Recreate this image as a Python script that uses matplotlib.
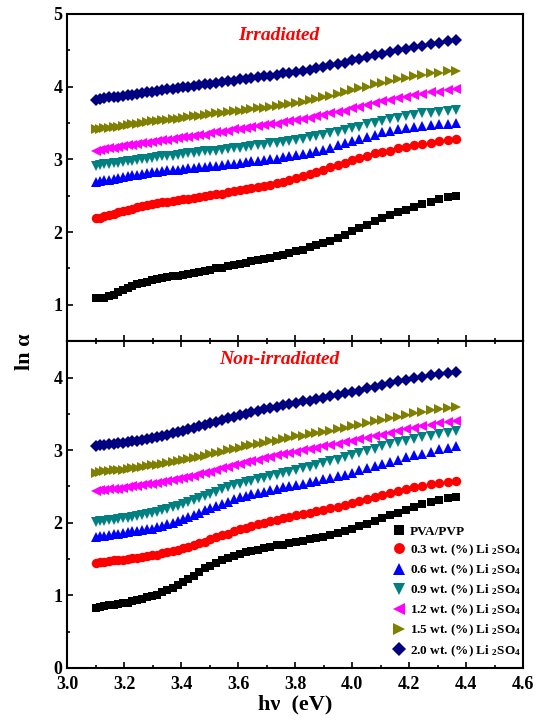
import numpy as np
import matplotlib
matplotlib.use("Agg")
import matplotlib.pyplot as plt
from matplotlib.ticker import MultipleLocator

plt.rcParams['font.family'] = ['Liberation Serif', 'DejaVu Serif']
plt.rcParams['font.weight'] = 'bold'
plt.rcParams['mathtext.fontset'] = 'custom'
plt.rcParams['mathtext.rm'] = 'Liberation Serif:bold'
plt.rcParams['mathtext.it'] = 'Liberation Serif:italic:bold'
plt.rcParams['mathtext.bf'] = 'Liberation Serif:bold'

# photon energy (eV) of each measured point
hv = [3.100, 3.116, 3.131, 3.147, 3.163, 3.179, 3.196, 3.212, 3.229, 3.246,
      3.263, 3.280, 3.298, 3.316, 3.333, 3.351, 3.370, 3.388, 3.407, 3.425,
      3.444, 3.464, 3.483, 3.503, 3.523, 3.543, 3.563, 3.584, 3.605, 3.626,
      3.647, 3.669, 3.690, 3.713, 3.735, 3.758, 3.780, 3.804, 3.827, 3.851,
      3.875, 3.899, 3.924, 3.949, 3.974, 4.000, 4.026, 4.052, 4.079, 4.106,
      4.133, 4.161, 4.189, 4.218, 4.247, 4.276, 4.306, 4.336, 4.366]

labels = ["PVA/PVP",
          "0.3 wt. (%) Li $_2$SO$_4$",
          "0.6 wt. (%) Li $_2$SO$_4$",
          "0.9 wt. (%) Li $_2$SO$_4$",
          "1.2 wt. (%) Li $_2$SO$_4$",
          "1.5 wt. (%) Li $_2$SO$_4$",
          "2.0 wt. (%) Li $_2$SO$_4$"]

# ---- irradiated (top panel) ----
irr_00 = [1.09, 1.09, 1.10, 1.12, 1.14, 1.17, 1.20, 1.23, 1.26, 1.28,
          1.30, 1.32, 1.34, 1.36, 1.37, 1.38, 1.39, 1.40, 1.41, 1.43,
          1.44, 1.45, 1.47, 1.48, 1.50, 1.51, 1.53, 1.55, 1.56, 1.58,
          1.60, 1.61, 1.63, 1.65, 1.67, 1.69, 1.71, 1.74, 1.76, 1.79,
          1.82, 1.85, 1.88, 1.92, 1.96, 2.01, 2.05, 2.10, 2.15, 2.19,
          2.23, 2.27, 2.31, 2.35, 2.39, 2.42, 2.45, 2.48, 2.50]
irr_03 = [2.19, 2.20, 2.22, 2.23, 2.25, 2.27, 2.29, 2.30, 2.32, 2.34,
          2.36, 2.37, 2.39, 2.40, 2.41, 2.42, 2.43, 2.44, 2.45, 2.46,
          2.47, 2.48, 2.49, 2.51, 2.52, 2.53, 2.55, 2.56, 2.58, 2.59,
          2.61, 2.62, 2.64, 2.65, 2.67, 2.69, 2.71, 2.74, 2.77, 2.80,
          2.83, 2.86, 2.89, 2.92, 2.95, 2.99, 3.02, 3.05, 3.08, 3.10,
          3.12, 3.15, 3.17, 3.19, 3.21, 3.23, 3.25, 3.27, 3.28]
irr_06 = [2.69, 2.70, 2.71, 2.72, 2.73, 2.74, 2.76, 2.77, 2.78, 2.79,
          2.80, 2.81, 2.82, 2.83, 2.84, 2.85, 2.85, 2.86, 2.87, 2.88,
          2.88, 2.89, 2.90, 2.91, 2.91, 2.92, 2.93, 2.94, 2.95, 2.96,
          2.97, 2.98, 2.99, 3.00, 3.01, 3.03, 3.04, 3.06, 3.07, 3.09,
          3.11, 3.13, 3.16, 3.19, 3.22, 3.25, 3.28, 3.31, 3.34, 3.37,
          3.39, 3.41, 3.43, 3.45, 3.46, 3.47, 3.48, 3.49, 3.50]
irr_09 = [2.91, 2.92, 2.93, 2.94, 2.95, 2.95, 2.96, 2.97, 2.98, 2.99,
          3.00, 3.01, 3.02, 3.03, 3.04, 3.05, 3.05, 3.06, 3.07, 3.08,
          3.09, 3.10, 3.11, 3.11, 3.12, 3.13, 3.14, 3.15, 3.16, 3.17,
          3.18, 3.19, 3.20, 3.22, 3.23, 3.24, 3.25, 3.27, 3.28, 3.30,
          3.32, 3.34, 3.36, 3.38, 3.40, 3.43, 3.45, 3.48, 3.50, 3.53,
          3.55, 3.57, 3.59, 3.61, 3.63, 3.64, 3.65, 3.67, 3.68]
irr_12 = [3.12, 3.13, 3.14, 3.15, 3.16, 3.17, 3.18, 3.19, 3.20, 3.21,
          3.22, 3.23, 3.24, 3.25, 3.26, 3.27, 3.28, 3.29, 3.30, 3.31,
          3.32, 3.33, 3.34, 3.36, 3.37, 3.38, 3.39, 3.41, 3.42, 3.43,
          3.44, 3.46, 3.47, 3.48, 3.49, 3.51, 3.52, 3.54, 3.55, 3.57,
          3.59, 3.61, 3.63, 3.65, 3.67, 3.70, 3.72, 3.75, 3.77, 3.80,
          3.82, 3.84, 3.86, 3.88, 3.90, 3.92, 3.93, 3.95, 3.96]
irr_15 = [3.41, 3.42, 3.43, 3.43, 3.44, 3.45, 3.46, 3.47, 3.48, 3.49,
          3.50, 3.51, 3.52, 3.53, 3.54, 3.54, 3.55, 3.56, 3.57, 3.58,
          3.59, 3.60, 3.61, 3.62, 3.63, 3.64, 3.65, 3.66, 3.67, 3.68,
          3.69, 3.70, 3.71, 3.72, 3.73, 3.75, 3.76, 3.77, 3.79, 3.81,
          3.83, 3.85, 3.87, 3.90, 3.92, 3.95, 3.98, 4.00, 4.03, 4.05,
          4.08, 4.10, 4.12, 4.14, 4.16, 4.18, 4.19, 4.21, 4.22]
irr_20 = [3.82, 3.83, 3.84, 3.85, 3.85, 3.86, 3.87, 3.88, 3.89, 3.90,
          3.91, 3.92, 3.93, 3.94, 3.95, 3.96, 3.97, 3.98, 3.99, 4.00,
          4.01, 4.02, 4.03, 4.04, 4.05, 4.06, 4.07, 4.08, 4.10, 4.11,
          4.12, 4.13, 4.14, 4.15, 4.16, 4.18, 4.19, 4.20, 4.22, 4.23,
          4.25, 4.27, 4.29, 4.31, 4.33, 4.36, 4.38, 4.40, 4.43, 4.45,
          4.47, 4.50, 4.52, 4.54, 4.56, 4.58, 4.60, 4.62, 4.64]

# ---- non-irradiated (bottom panel) ----
non_00 = [0.83, 0.84, 0.85, 0.86, 0.87, 0.88, 0.89, 0.90, 0.92, 0.93,
          0.95, 0.97, 0.99, 1.01, 1.04, 1.07, 1.10, 1.14, 1.18, 1.22,
          1.27, 1.32, 1.37, 1.41, 1.45, 1.48, 1.51, 1.54, 1.57, 1.59,
          1.61, 1.63, 1.65, 1.67, 1.69, 1.70, 1.72, 1.73, 1.75, 1.77,
          1.79, 1.81, 1.83, 1.86, 1.88, 1.91, 1.95, 1.98, 2.02, 2.06,
          2.10, 2.14, 2.18, 2.22, 2.26, 2.29, 2.31, 2.34, 2.35]
non_03 = [1.45, 1.46, 1.46, 1.47, 1.48, 1.48, 1.49, 1.50, 1.51, 1.52,
          1.53, 1.54, 1.55, 1.56, 1.58, 1.59, 1.61, 1.63, 1.65, 1.67,
          1.69, 1.72, 1.74, 1.77, 1.80, 1.83, 1.85, 1.88, 1.91, 1.93,
          1.96, 1.98, 2.00, 2.02, 2.04, 2.06, 2.08, 2.10, 2.12, 2.14,
          2.16, 2.18, 2.20, 2.22, 2.24, 2.27, 2.30, 2.32, 2.35, 2.38,
          2.41, 2.44, 2.46, 2.49, 2.51, 2.53, 2.55, 2.56, 2.57]
non_06 = [1.81, 1.82, 1.82, 1.83, 1.84, 1.85, 1.86, 1.87, 1.88, 1.89,
          1.90, 1.91, 1.92, 1.94, 1.96, 1.98, 2.00, 2.02, 2.05, 2.08,
          2.11, 2.14, 2.17, 2.20, 2.23, 2.26, 2.29, 2.32, 2.35, 2.37,
          2.39, 2.41, 2.43, 2.45, 2.47, 2.49, 2.50, 2.52, 2.54, 2.56,
          2.58, 2.60, 2.62, 2.64, 2.66, 2.69, 2.72, 2.75, 2.78, 2.81,
          2.84, 2.87, 2.90, 2.93, 2.95, 2.98, 3.01, 3.03, 3.06]
non_09 = [2.01, 2.02, 2.03, 2.04, 2.04, 2.05, 2.06, 2.07, 2.08, 2.09,
          2.11, 2.12, 2.13, 2.15, 2.17, 2.19, 2.21, 2.23, 2.26, 2.29,
          2.31, 2.34, 2.37, 2.40, 2.43, 2.46, 2.49, 2.52, 2.54, 2.56,
          2.58, 2.60, 2.62, 2.64, 2.66, 2.68, 2.70, 2.72, 2.75, 2.77,
          2.79, 2.82, 2.85, 2.87, 2.90, 2.93, 2.96, 2.99, 3.02, 3.05,
          3.08, 3.11, 3.13, 3.16, 3.18, 3.20, 3.22, 3.24, 3.26]
non_12 = [2.44, 2.45, 2.45, 2.46, 2.47, 2.47, 2.48, 2.49, 2.50, 2.51,
          2.52, 2.53, 2.54, 2.55, 2.56, 2.58, 2.59, 2.60, 2.62, 2.63,
          2.65, 2.67, 2.68, 2.70, 2.72, 2.75, 2.77, 2.79, 2.81, 2.83,
          2.85, 2.87, 2.89, 2.91, 2.93, 2.95, 2.96, 2.98, 3.00, 3.02,
          3.03, 3.05, 3.07, 3.09, 3.11, 3.13, 3.15, 3.17, 3.19, 3.21,
          3.24, 3.26, 3.29, 3.31, 3.33, 3.35, 3.37, 3.39, 3.40]
non_15 = [2.69, 2.70, 2.71, 2.71, 2.72, 2.73, 2.73, 2.74, 2.75, 2.76,
          2.77, 2.78, 2.79, 2.80, 2.81, 2.82, 2.84, 2.85, 2.86, 2.88,
          2.89, 2.91, 2.92, 2.94, 2.96, 2.98, 3.00, 3.02, 3.03, 3.05,
          3.07, 3.08, 3.10, 3.12, 3.13, 3.15, 3.17, 3.19, 3.20, 3.22,
          3.24, 3.25, 3.27, 3.29, 3.31, 3.33, 3.35, 3.38, 3.40, 3.42,
          3.44, 3.46, 3.48, 3.51, 3.53, 3.55, 3.56, 3.58, 3.59]
non_20 = [3.06, 3.07, 3.07, 3.08, 3.09, 3.10, 3.10, 3.11, 3.12, 3.13,
          3.14, 3.15, 3.17, 3.18, 3.20, 3.21, 3.23, 3.25, 3.27, 3.29,
          3.31, 3.33, 3.35, 3.37, 3.39, 3.41, 3.44, 3.46, 3.48, 3.50,
          3.52, 3.54, 3.56, 3.58, 3.60, 3.62, 3.63, 3.65, 3.67, 3.68,
          3.70, 3.72, 3.74, 3.76, 3.78, 3.80, 3.82, 3.85, 3.87, 3.90,
          3.92, 3.95, 3.97, 3.99, 4.01, 4.03, 4.05, 4.06, 4.07]

irradiated = [irr_00, irr_03, irr_06, irr_09, irr_12, irr_15, irr_20]
non_irradiated = [non_00, non_03, non_06, non_09, non_12, non_15, non_20]

colors = ['black', 'red', 'blue', '#008080', 'magenta', '#808000', '#000080']
markers = ['s', 'o', '^', 'v', '<', '>', 'D']
msizes = [6, 6.8, 7.5, 7.5, 7.5, 7.5, 5.8]

fig = plt.figure(figsize=(5.37, 7.26), dpi=100)
ax1 = fig.add_axes([0.125, 0.530, 0.849, 0.451])
ax2 = fig.add_axes([0.125, 0.080, 0.849, 0.450])

for ax, series in ((ax1, irradiated), (ax2, non_irradiated)):
    for ys, c, m, ms, lab in zip(series, colors, markers, msizes, labels):
        ax.plot(hv, ys, linestyle='none', marker=m, color=c, markersize=ms,
                markeredgewidth=0, label=lab)
    ax.set_xlim(3.0, 4.6)
    ax.xaxis.set_major_locator(MultipleLocator(0.2))
    ax.xaxis.set_minor_locator(MultipleLocator(0.1))
    ax.yaxis.set_major_locator(MultipleLocator(1))
    ax.yaxis.set_minor_locator(MultipleLocator(0.5))
    ax.tick_params(which='both', direction='in', labelsize=13, width=1.2)
    ax.tick_params(which='major', length=4)
    ax.tick_params(which='minor', length=2.5)
    ax.tick_params(axis='x', pad=6)
    for sp in ax.spines.values():
        sp.set_linewidth(1.5)

ax1.set_ylim(0.5, 5)
ax1.tick_params(labelbottom=False)
ax2.set_ylim(0, 4.5)
ax2.tick_params(which='both', top=True)
for lab in ax1.get_yticklabels() + ax2.get_yticklabels() + ax2.get_xticklabels():
    lab.set_fontweight('bold')

ax1.text(0.465, 0.935, "Irradiated", transform=ax1.transAxes, ha='center', va='center',
         color='red', fontsize=14, fontweight='bold', style='italic')
ax2.text(0.465, 0.945, "Non-irradiated", transform=ax2.transAxes, ha='center', va='center',
         color='red', fontsize=14, fontweight='bold', style='italic')

ax2.set_xlabel("h\u03bd  (eV)", fontsize=16, fontweight='bold', labelpad=1)
fig.text(0.047, 0.515, "ln \u03b1", rotation=90, ha='center', va='center',
         fontsize=16, fontweight='bold')

ax2.legend(loc='lower right', bbox_to_anchor=(1.015, 0.0), frameon=False,
           markerscale=1.15, handlelength=1.0, handletextpad=0.3,
           labelspacing=0.36, borderaxespad=0.3,
           prop={'weight': 'bold', 'size': 9.5})

fig.savefig("out.png", dpi=100)
